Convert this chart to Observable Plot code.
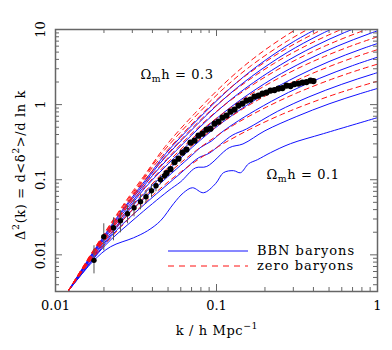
<!DOCTYPE html>
<html><head><meta charset="utf-8">
<script src="https://cdn.jsdelivr.net/npm/d3@7"></script>
<script src="https://cdn.jsdelivr.net/npm/@observablehq/plot@0.6"></script>
<style>
html,body{margin:0;padding:0;background:#fff;}
#chart svg{display:block;}
</style></head><body><div id="chart"></div>
<script>
// ---- zero-baryon models (red dashed), one per Omega_m h ----
const zeroK_0100 = [0.012, 0.016, 0.025, 0.04, 0.06, 0.1, 0.16, 0.25, 0.4, 0.63, 1.0];
const zeroD_0100 = [0.0033, 0.00774, 0.0225, 0.0615, 0.127, 0.267, 0.466, 0.729, 1.088, 1.521, 2.05];
const zeroK_0125 = [0.012, 0.015, 0.02, 0.03125, 0.05, 0.075, 0.125, 0.2, 0.3125, 0.5, 0.7875, 1.25];
const zeroD_0125 = [0.0033, 0.00641, 0.01502, 0.0437, 0.1195, 0.246, 0.519, 0.905, 1.415, 2.113, 2.953, 3.982];
const zeroK_0150 = [0.012, 0.015, 0.018, 0.024, 0.0375, 0.06, 0.09, 0.15, 0.24, 0.375, 0.6, 0.945, 1.5];
const zeroD_0150 = [0.0033, 0.00658, 0.01126, 0.0264, 0.0769, 0.210, 0.4325, 0.911, 1.591, 2.487, 3.713, 5.188, 7.0];
const zeroK_0175 = [0.012, 0.014, 0.0175, 0.021, 0.028, 0.04375, 0.07, 0.105, 0.175, 0.28, 0.4375, 0.7, 1.1025];
const zeroD_0175 = [0.0033, 0.00545, 0.01087, 0.01861, 0.0436, 0.127, 0.347, 0.715, 1.505, 2.63, 4.111, 6.136, 8.575];
const zeroK_0200 = [0.012, 0.016, 0.02, 0.024, 0.032, 0.05, 0.08, 0.12, 0.2, 0.32, 0.5, 0.8, 1.26];
const zeroD_0200 = [0.0033, 0.00843, 0.0168, 0.0288, 0.0675, 0.1965, 0.5365, 1.105, 2.328, 4.066, 6.357, 9.489, 13.26];
const zeroK_0225 = [0.012, 0.0135, 0.018, 0.0225, 0.027, 0.036, 0.05625, 0.09, 0.135, 0.225, 0.36, 0.5625, 0.9, 1.4175];
const zeroD_0225 = [0.0033, 0.00493, 0.01261, 0.02512, 0.0430, 0.1009, 0.2936, 0.802, 1.652, 3.479, 6.077, 9.502, 14.19, 19.82];
const zeroK_0250 = [0.012, 0.015, 0.02, 0.025, 0.03, 0.04, 0.0625, 0.1, 0.15, 0.25, 0.4, 0.625, 1.0];
const zeroD_0250 = [0.0033, 0.0071, 0.01814, 0.03614, 0.0619, 0.1451, 0.4226, 1.154, 2.378, 5.008, 8.747, 13.67, 20.41];
const zeroK_0275 = [0.012, 0.01375, 0.0165, 0.022, 0.0275, 0.033, 0.044, 0.06875, 0.11, 0.165, 0.275, 0.44, 0.6875];
const zeroD_0275 = [0.0033, 0.00533, 0.00994, 0.0254, 0.0506, 0.0866, 0.2031, 0.5914, 1.615, 3.328, 7.01, 12.24, 19.13];
const zeroK_0300 = [0.012, 0.015, 0.018, 0.024, 0.03, 0.036, 0.048, 0.075, 0.12, 0.18, 0.3, 0.48];
const zeroD_0300 = [0.0033, 0.00725, 0.01351, 0.03453, 0.0688, 0.1178, 0.2762, 0.8043, 2.197, 4.525, 9.533, 16.65];

// ---- BBN-baryon models (blue solid) ----
const bbnK_0100 = [0.012, 0.01722, 0.02196, 0.03052, 0.03728, 0.0449, 0.0541, 0.0624, 0.0709, 0.083, 0.0986, 0.1105, 0.1275, 0.141, 0.1581, 0.1799, 0.2165, 0.2882, 0.4623, 1.0];
const bbnD_0100 = [0.0033, 0.00832, 0.0128, 0.01686, 0.0209, 0.0284, 0.0479, 0.0671, 0.0782, 0.0671, 0.0885, 0.124, 0.132, 0.124, 0.163, 0.185, 0.229, 0.302, 0.411, 0.671];
const bbnK_0125 = [0.012, 0.015, 0.02, 0.03125, 0.05, 0.06, 0.074, 0.087, 0.12, 0.146, 0.2, 0.3125, 0.5, 0.7875, 1.25];
const bbnD_0125 = [0.0033, 0.00602, 0.01288, 0.03067, 0.0707, 0.0942, 0.1436, 0.1502, 0.267, 0.2995, 0.4486, 0.6908, 1.023, 1.408, 1.884];
const bbnK_0150 = [0.012, 0.015, 0.018, 0.024, 0.0375, 0.06, 0.077, 0.09, 0.125, 0.153, 0.24, 0.375, 0.6, 0.945, 1.5];
const bbnD_0150 = [0.0033, 0.0062, 0.01017, 0.02139, 0.05157, 0.1227, 0.1948, 0.2251, 0.3894, 0.4719, 0.8161, 1.267, 1.864, 2.567, 3.461];
const bbnK_0175 = [0.012, 0.014, 0.0175, 0.021, 0.028, 0.04375, 0.07, 0.08, 0.093, 0.105, 0.128, 0.175, 0.28, 0.4375, 0.7, 1.1025];
const bbnD_0175 = [0.0033, 0.00525, 0.00999, 0.01615, 0.03393, 0.08517, 0.2098, 0.271, 0.3267, 0.4106, 0.5553, 0.8426, 1.453, 2.242, 3.304, 4.588];
const bbnK_0200 = [0.012, 0.016, 0.02, 0.024, 0.032, 0.05, 0.08, 0.12, 0.2, 0.32, 0.5, 0.8, 1.26];
const bbnD_0200 = [0.0033, 0.00797, 0.01501, 0.02443, 0.05175, 0.1339, 0.3417, 0.6766, 1.393, 2.406, 3.741, 5.521, 7.671];
const bbnK_0225 = [0.012, 0.0135, 0.018, 0.0225, 0.027, 0.036, 0.05625, 0.09, 0.135, 0.225, 0.36, 0.5625, 0.9, 1.4175];
const bbnD_0225 = [0.0033, 0.00484, 0.01178, 0.02226, 0.03596, 0.07805, 0.2073, 0.5369, 1.08, 2.241, 3.876, 6.003, 8.875, 12.4];
const bbnK_0250 = [0.012, 0.015, 0.02, 0.025, 0.03, 0.04, 0.0625, 0.1, 0.15, 0.25, 0.4, 0.625, 1.0];
const bbnD_0250 = [0.0033, 0.00686, 0.01666, 0.03155, 0.05132, 0.1134, 0.3069, 0.8035, 1.627, 3.384, 5.886, 9.124, 13.5];
const bbnK_0275 = [0.012, 0.01375, 0.0165, 0.022, 0.0275, 0.033, 0.044, 0.06875, 0.11, 0.165, 0.275, 0.44, 0.6875];
const bbnD_0275 = [0.0033, 0.00523, 0.00953, 0.02318, 0.04379, 0.0719, 0.1605, 0.4414, 1.165, 2.364, 4.942, 8.564, 13.33];
const bbnK_0300 = [0.012, 0.015, 0.018, 0.024, 0.03, 0.036, 0.048, 0.075, 0.12, 0.18, 0.3, 0.48];
const bbnD_0300 = [0.0033, 0.00705, 0.01285, 0.03113, 0.05881, 0.0975, 0.2183, 0.6066, 1.61, 3.282, 6.864, 11.9];

// ---- measured points ----
const errK  = [0.01734, 0.01995, 0.02292, 0.02533, 0.028, 0.03074, 0.03373, 0.03648, 0.03948, 0.04209, 0.0449, 0.04753];
const errD  = [0.00845, 0.01738, 0.02291, 0.0284, 0.0352, 0.0423, 0.0509, 0.0593, 0.0713, 0.0832, 0.1, 0.113];
const errLo = [0.00558, 0.0113, 0.01537, 0.01965, 0.0259, 0.0321, 0.0398, 0.0479, 0.0575, 0.0692, 0.0858, 0.1];
const errHi = [0.0132, 0.0259, 0.0311, 0.0386, 0.045, 0.0541, 0.0631, 0.0713, 0.0858, 0.097, 0.1131, 0.1279];
const bandK = [0.04891, 0.0518, 0.05484, 0.05808, 0.06149, 0.06512, 0.06895, 0.07301, 0.0773, 0.08185, 0.08668, 0.09177, 0.09718, 0.1029, 0.109, 0.1154, 0.1222, 0.1294, 0.137, 0.145, 0.1536, 0.1626, 0.1722, 0.1824, 0.1931, 0.2045, 0.2165, 0.2292, 0.2427, 0.257, 0.2722, 0.2882, 0.3051, 0.3231, 0.3421, 0.3622, 0.3836, 0.4004];
const bandD = [0.1221, 0.138, 0.1711, 0.1905, 0.2291, 0.2527, 0.3113, 0.3311, 0.3861, 0.4105, 0.4642, 0.4786, 0.558, 0.5934, 0.6711, 0.7135, 0.8065, 0.8577, 0.9698, 1.031, 1.131, 1.166, 1.278, 1.318, 1.402, 1.445, 1.537, 1.561, 1.634, 1.66, 1.792, 1.765, 1.877, 1.905, 1.965, 1.995, 2.089, 2.058];

// ---- axes ----
const xDomain = [0.01, 1];
const yDomain = [0.00325, 10];
const xMajor = [0.01, 0.1, 1];
const xTickLabels = ["0.01", "0.1", "1"];
const xMinor = [0.02,0.03,0.04,0.05,0.06,0.07,0.08,0.09,0.2,0.3,0.4,0.5,0.6,0.7,0.8,0.9];
const yMajor = [0.01, 0.1, 1, 10];
const yTickLabels = ["0.01", "0.1", "1", "10"];
const yMinor = [0.004,0.005,0.006,0.007,0.008,0.009,0.02,0.03,0.04,0.05,0.06,0.07,0.08,0.09,0.2,0.3,0.4,0.5,0.6,0.7,0.8,0.9,2,3,4,5,6,7,8,9];

// ---- build tables ----
function rows(ks, ds, g) { return ks.map((k, i) => ({k, d: ds[i], g})); }
const zeroRows = [].concat(
  rows(zeroK_0100, zeroD_0100, "0.100"), rows(zeroK_0125, zeroD_0125, "0.125"),
  rows(zeroK_0150, zeroD_0150, "0.150"), rows(zeroK_0175, zeroD_0175, "0.175"),
  rows(zeroK_0200, zeroD_0200, "0.200"), rows(zeroK_0225, zeroD_0225, "0.225"),
  rows(zeroK_0250, zeroD_0250, "0.250"), rows(zeroK_0275, zeroD_0275, "0.275"),
  rows(zeroK_0300, zeroD_0300, "0.300"));
const bbnRows = [].concat(
  rows(bbnK_0100, bbnD_0100, "0.100"), rows(bbnK_0125, bbnD_0125, "0.125"),
  rows(bbnK_0150, bbnD_0150, "0.150"), rows(bbnK_0175, bbnD_0175, "0.175"),
  rows(bbnK_0200, bbnD_0200, "0.200"), rows(bbnK_0225, bbnD_0225, "0.225"),
  rows(bbnK_0250, bbnD_0250, "0.250"), rows(bbnK_0275, bbnD_0275, "0.275"),
  rows(bbnK_0300, bbnD_0300, "0.300"));
const errRows = errK.map((k, i) => ({k, d: errD[i], lo: errLo[i], hi: errHi[i]}));
const bandRows = bandK.map((k, i) => ({k, d: bandD[i]}));
const xMajorRows = xMajor.map((v, i) => ({v, label: xTickLabels[i]}));
const yMajorRows = yMajor.map((v, i) => ({v, label: yTickLabels[i]}));

const axisColor = "#666";
const FONT = "DejaVu Serif";
const BLUE = "#1010ff", RED = "#ff1010";
const yBottom = () => yDomain[0], yTop = () => yDomain[1], xLeft = () => xDomain[0], xRight = () => xDomain[1];

const chart = Plot.plot({
  width: 392, height: 350,
  marginLeft: 55, marginRight: 15, marginTop: 29, marginBottom: 59,
  x: {type: "log", domain: xDomain, axis: null},
  y: {type: "log", domain: yDomain, axis: null},
  style: {fontFamily: FONT, fontSize: "13px", background: "white", color: "black"},
  marks: [
    Plot.line(bbnRows, {x: "k", y: "d", z: "g", stroke: BLUE, strokeWidth: 1, curve: "catmull-rom", clip: true}),
    Plot.line(zeroRows, {x: "k", y: "d", z: "g", stroke: RED, strokeWidth: 1, strokeDasharray: "5,4", curve: "catmull-rom", clip: true}),
    Plot.ruleX(errRows, {x: "k", y1: "lo", y2: "hi", stroke: "#555", strokeWidth: 1}),
    Plot.dot(errRows, {x: "k", y: "d", r: 2.7, fill: "black", stroke: "none"}),
    Plot.dot(bandRows, {x: "k", y: "d", r: 3.1, fill: "black", stroke: "none"}),
    // ticks (inward)
    Plot.ruleX(xMajor, {x: d => d, y1: yBottom, y2: yBottom, insetBottom: 7, stroke: axisColor}),
    Plot.ruleX(xMinor, {x: d => d, y1: yBottom, y2: yBottom, insetBottom: 4, stroke: axisColor}),
    Plot.ruleX(xMajor, {x: d => d, y1: yTop, y2: yTop, insetTop: 7, stroke: axisColor}),
    Plot.ruleX(xMinor, {x: d => d, y1: yTop, y2: yTop, insetTop: 4, stroke: axisColor}),
    Plot.ruleY(yMajor, {y: d => d, x1: xLeft, x2: xLeft, insetLeft: 7, stroke: axisColor}),
    Plot.ruleY(yMinor, {y: d => d, x1: xLeft, x2: xLeft, insetLeft: 4, stroke: axisColor}),
    Plot.ruleY(yMajor, {y: d => d, x1: xRight, x2: xRight, insetRight: 7, stroke: axisColor}),
    Plot.ruleY(yMinor, {y: d => d, x1: xRight, x2: xRight, insetRight: 4, stroke: axisColor}),
    Plot.frame({stroke: axisColor, strokeWidth: 1.5}),
    // tick labels
    Plot.text(xMajorRows, {x: "v", y: yBottom, text: "label", dy: 14, fontSize: 13, fill: "black"}),
    Plot.text(yMajorRows, {x: xLeft, y: "v", text: "label", dx: -15, rotate: -90, fontSize: 13, fill: "black"})
  ]
});
document.getElementById("chart").appendChild(chart);

// ---- titles, annotations and legend ----
const svg = d3.select(chart);
function rich(x, y, parts, rotate = 0, size = 13, anchor = "middle", spacing = 0.6) {
  const t = svg.append("text")
    .attr("transform", `translate(${x},${y}) rotate(${rotate})`)
    .attr("text-anchor", anchor).attr("dominant-baseline", "middle")
    .attr("font-family", FONT).attr("font-size", size).attr("fill", "black")
    .attr("letter-spacing", spacing);
  let shift = 0;
  parts.forEach(([s, kind]) => {
    const target = kind === "sup" ? -5 : kind === "sub" ? 4 : 0;
    const ts = t.append("tspan").text(s).attr("dy", target - shift);
    if (kind) ts.attr("font-size", size * 0.72);
    shift = target;
  });
  return t;
}
rich(21, 165, [["Δ", 0], ["2", "sup"], ["(k) = d<δ", 0], ["2", "sup"], [">/d ln k", 0]], -90);
rich(217, 331, [["k / h Mpc", 0], ["−1", "sup"]]);
rich(177, 75, [["Ω", 0], ["m", "sub"], ["h = 0.3", 0]]);
rich(303, 175, [["Ω", 0], ["m", "sub"], ["h = 0.1", 0]]);

svg.append("line").attr("x1", 168).attr("x2", 248).attr("y1", 251).attr("y2", 251)
  .attr("stroke", BLUE).attr("stroke-width", 1);
svg.append("line").attr("x1", 168).attr("x2", 248).attr("y1", 266).attr("y2", 266)
  .attr("stroke", RED).attr("stroke-width", 1).attr("stroke-dasharray", "6,5");
rich(257, 251, [["BBN baryons", 0]], 0, 13, "start", 1);
rich(257, 266, [["zero baryons", 0]], 0, 13, "start", 1);
</script></body></html>
